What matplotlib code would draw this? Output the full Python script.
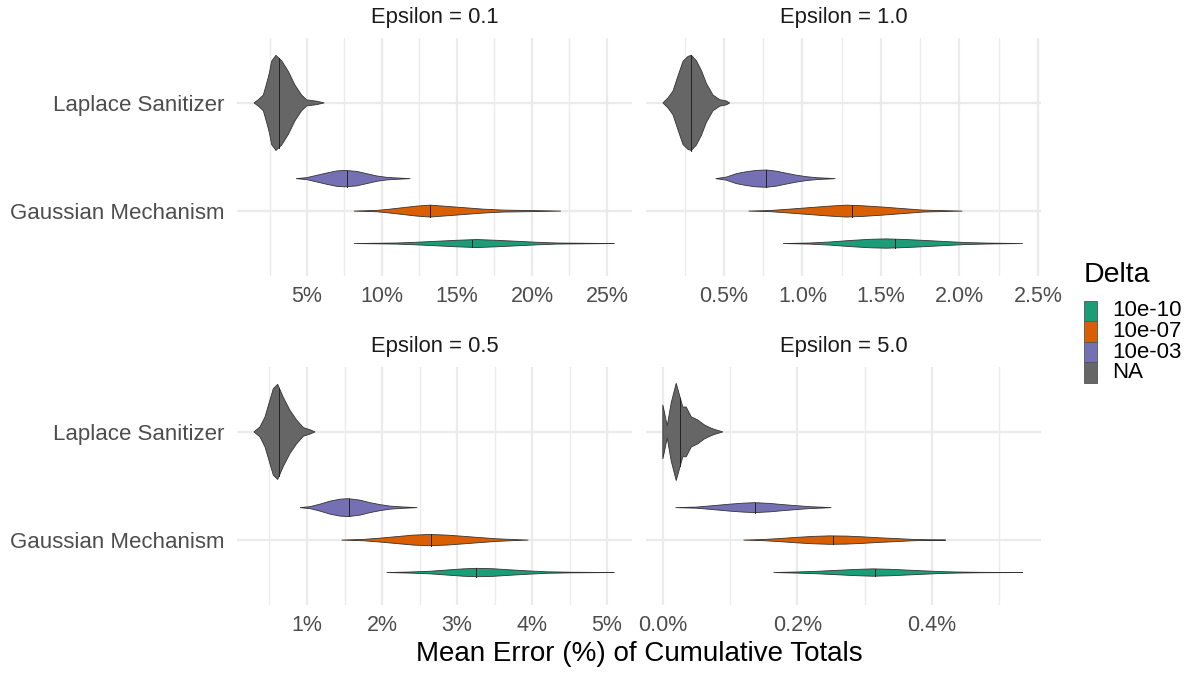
import matplotlib
matplotlib.use("Agg")
import matplotlib.pyplot as plt
from matplotlib.patches import Rectangle

plt.rcParams['font.family'] = ['Liberation Sans', 'DejaVu Sans']

# violin outlines: (error %, half width in category units)
# Epsilon = 0.1
eps01_na = [(1.47, 0), (1.76, .03), (2.09, .073), (2.31, .18), (2.49, .275), (2.64, .385),
            (2.93, .44), (3.31, .39), (3.76, .29), (4.2, .165), (4.64, .073), (4.98, .028),
            (5.64, .016), (6.15, 0)]
eps01_d3 = [(4.27, 0), (4.98, .009), (5.64, .03), (6.31, .052), (6.98, .071), (7.53, .076),
            (8.31, .067), (8.98, .046), (9.64, .025), (10.31, .012), (10.98, .006), (11.89, 0)]
eps01_d7 = [(8.13, 0), (9.64, .006), (10.53, .018), (11.42, .032), (12.31, .046), (13.2, .055),
            (14.09, .046), (15.42, .032), (16.76, .018), (18.09, .009), (19.87, .005), (21.93, 0)]
eps01_d10 = [(8.13, 0), (10.98, .005), (12.31, .012), (13.64, .021), (14.98, .03), (16.31, .037),
             (17.64, .03), (18.98, .021), (20.31, .012), (21.64, .005), (23.2, .003), (25.49, 0)]
med_01 = [3.13, 7.64, 13.2, 16.02]

# Epsilon = 1.0
eps10_na = [(0.111, 0), (0.143, .046), (0.175, .11), (0.207, .25), (0.239, .385), (0.271, .43),
            (0.292, .44), (0.324, .39), (0.356, .30), (0.388, .18), (0.43, .073), (0.473, .03),
            (0.515, .018), (0.536, 0)]
eps10_d3 = [(0.447, 0), (0.515, .014), (0.579, .046), (0.643, .064), (0.706, .076), (0.77, .08),
            (0.834, .069), (0.897, .05), (0.961, .032), (1.025, .018), (1.089, .009), (1.21, 0)]
eps10_d7 = [(0.657, 0), (0.791, .005), (0.918, .018), (1.046, .032), (1.173, .046), (1.28, .055),
            (1.385, .049), (1.513, .037), (1.64, .023), (1.768, .009), (1.895, .004), (2.018, 0)]
eps10_d10 = [(0.876, 0), (1.046, .005), (1.173, .014), (1.301, .028), (1.428, .039), (1.534, .043),
             (1.661, .037), (1.789, .028), (1.916, .018), (2.043, .009), (2.192, .004), (2.404, 0)]
med_10 = [0.292, 0.77, 1.318, 1.587]

# Epsilon = 0.5
eps05_na = [(0.293, 0), (0.373, .046), (0.44, .138), (0.498, .275), (0.551, .40), (0.609, .44),
            (0.684, .32), (0.773, .2), (0.862, .11), (0.951, .04), (1.04, .02), (1.107, 0)]
eps05_d3 = [(0.907, 0), (1.04, .009), (1.173, .032), (1.307, .06), (1.44, .078), (1.551, .083),
            (1.707, .069), (1.84, .046), (1.973, .028), (2.107, .014), (2.284, .006), (2.471, 0)]
eps05_d7 = [(1.462, 0), (1.751, .006), (1.973, .018), (2.196, .032), (2.417, .046), (2.64, .052),
            (2.863, .046), (3.084, .035), (3.307, .023), (3.529, .012), (3.751, .005), (3.951, 0)]
eps05_d10 = [(2.062, 0), (2.373, .005), (2.64, .012), (2.863, .023), (3.084, .034), (3.262, .039),
             (3.484, .035), (3.707, .025), (3.929, .016), (4.196, .007), (4.507, .003), (5.097, 0)]
med_05 = [0.631, 1.564, 2.649, 3.253]

# Epsilon = 5.0
eps50_na = [(0.0, 0), (0.0, .25), (0.0025, .18), (0.0065, .055), (0.0125, .27), (0.0199, .45),
            (0.0248, .34), (0.0297, .23), (0.0348, .23), (0.0422, .14), (0.052, .11), (0.062, .064),
            (0.072, .034), (0.0794, .018), (0.0892, 0)]
eps50_d3 = [(0.0189, 0), (0.0497, .005), (0.0744, .018), (0.0992, .032), (0.119, .041), (0.1364, .046),
            (0.1587, .039), (0.1784, .028), (0.1983, .018), (0.2181, .009), (0.233, .005), (0.2504, 0)]
eps50_d7 = [(0.12, 0), (0.1487, .005), (0.1735, .014), (0.1983, .025), (0.2231, .034), (0.2479, .039),
            (0.2727, .037), (0.2974, .03), (0.3222, .021), (0.347, .014), (0.3718, .006), (0.3965, .003),
            (0.4204, 0)]
eps50_d10 = [(0.1646, 0), (0.1983, .005), (0.2281, .011), (0.2578, .02), (0.2876, .029), (0.3123, .034),
             (0.3371, .03), (0.3619, .023), (0.3866, .016), (0.4115, .009), (0.4363, .005), (0.471, .002),
             (0.5353, 0)]
med_50 = [0.0259, 0.1368, 0.2528, 0.3158]

mechanisms = ["Gaussian Mechanism", "Laplace Sanitizer"]
delta_labels = ["10e-10", "10e-07", "10e-03", "NA"]
delta_colors = ["#1B9E77", "#D95F02", "#7570B3", "#666666"]

panels = [
    ("Epsilon = 0.1", [eps01_na, eps01_d3, eps01_d7, eps01_d10], med_01,
     (0.333, 26.67), [5, 10, 15, 20, 25], [2.5, 7.5, 12.5, 17.5, 22.5], "{:.0f}%"),
    ("Epsilon = 1.0", [eps10_na, eps10_d3, eps10_d7, eps10_d10], med_10,
     (0.003, 2.52), [0.5, 1.0, 1.5, 2.0, 2.5], [0.25, 0.75, 1.25, 1.75, 2.25], "{:.1f}%"),
    ("Epsilon = 0.5", [eps05_na, eps05_d3, eps05_d7, eps05_d10], med_05,
     (0.0667, 5.333), [1, 2, 3, 4, 5], [0.5, 1.5, 2.5, 3.5, 4.5], "{:.0f}%"),
    ("Epsilon = 5.0", [eps50_na, eps50_d3, eps50_d7, eps50_d10], med_50,
     (-0.025, 0.562), [0.0, 0.2, 0.4], [0.1, 0.3, 0.5], "{:.1f}%"),
]

# y centre of each violin: NA on Laplace row, deltas dodged on Gaussian row
centres = [2.0, 1.3, 1.0, 0.7]
fills = ["#666666", "#7570B3", "#D95F02", "#1B9E77"]

W, H = 1190, 673
fig = plt.figure(figsize=(W / 100, H / 100), dpi=100)

boxes = [(237, 38), (646, 38), (237, 367), (646, 367)]
pw, ph = 395, 238

for (title, violins, meds, xlim, major, minor, fmt), (px, py) in zip(panels, boxes):
    ax = fig.add_axes([px / W, 1 - (py + ph) / H, pw / W, ph / H])
    ax.set_xlim(*xlim)
    ax.set_ylim(0.4, 2.6)
    for v in minor:
        ax.axvline(v, color="#EBEBEB", lw=1.0, zorder=0)
    for v in major:
        ax.axvline(v, color="#EBEBEB", lw=1.6, zorder=0)
    for yv in [1, 2]:
        ax.axhline(yv, color="#EBEBEB", lw=1.6, zorder=0)
    for prof, yc, col, m in zip(violins, centres, fills, meds):
        xs = [p[0] for p in prof]
        ws = [p[1] for p in prof]
        px_ = xs + xs[::-1]
        py_ = [yc + w for w in ws] + [yc - w for w in ws[::-1]]
        ax.fill(px_, py_, facecolor=col, edgecolor="#333333", lw=0.6, zorder=2)
        # median line, height of the outline at that position
        hw = 0
        for (x0, w0), (x1, w1) in zip(prof[:-1], prof[1:]):
            if x0 <= m <= x1 and x1 > x0:
                hw = w0 + (w1 - w0) * (m - x0) / (x1 - x0)
        ax.plot([m, m], [yc - hw, yc + hw], color="#222222", lw=0.7, zorder=3)
    ax.set_xticks(major)
    ax.set_xticklabels([fmt.format(v) for v in major])
    ax.tick_params(axis="both", length=0, labelcolor="#4D4D4D")
    ax.tick_params(axis="x", pad=7, labelsize=15.5)
    ax.tick_params(axis="y", pad=9, labelsize=16)
    if px == 237:
        ax.set_yticks([1, 2])
        ax.set_yticklabels(mechanisms)
    else:
        ax.set_yticks([])
    for s in ax.spines.values():
        s.set_visible(False)
    fig.text((px + pw / 2) / W, 1 - (py - 20) / H, title, ha="center", va="center",
             fontsize=15.8, color="#1A1A1A")

fig.text(639 / W, 1 - 654 / H, "Mean Error (%) of Cumulative Totals", ha="center",
         va="center", fontsize=20, color="black")

# legend
fig.text(1084 / W, 1 - 275 / H, "Delta", ha="left", va="center", fontsize=20.5)
for i, (lab, col) in enumerate(zip(delta_labels, delta_colors)):
    top = 300.5 + i * 20.6
    fig.patches.append(Rectangle((1084 / W, 1 - (top + 20.6) / H), 13 / W, 20.6 / H,
                                 transform=fig.transFigure, facecolor=col,
                                 edgecolor="#555555", lw=0.6))
    fig.text(1112 / W, 1 - (top + 10.3) / H, lab, ha="left", va="center", fontsize=16)

fig.savefig("out.png", dpi=100)
